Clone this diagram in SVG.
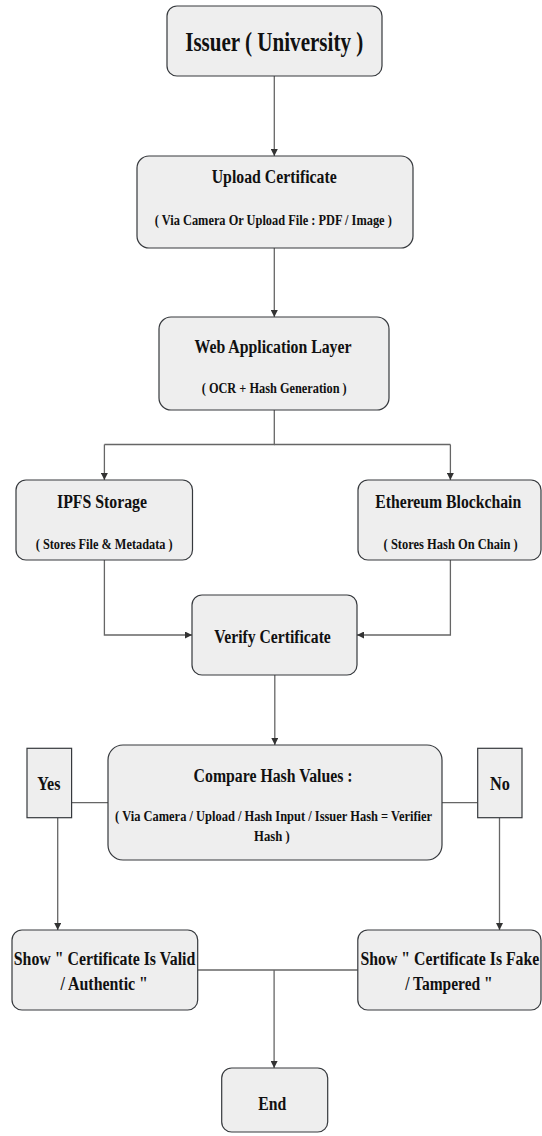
<svg xmlns="http://www.w3.org/2000/svg" width="542" height="1136" viewBox="0 0 542 1136">
<style>
.box{fill:#eeeeee;stroke:#36393d;stroke-width:1.2}
.t{font-family:"Liberation Serif","DejaVu Serif",serif;font-weight:bold;fill:#111;text-anchor:middle}
.big{font-size:28px}
.h{font-size:19px}
.s{font-size:15.5px}
.c{fill:none;stroke:#666;stroke-width:1.3}
.ca{fill:none;stroke:#666;stroke-width:1.3;marker-end:url(#arr)}
</style>
<defs>
<marker id="arr" viewBox="0 0 10 10" refX="10" refY="5" markerWidth="7" markerHeight="7" markerUnits="userSpaceOnUse" orient="auto">
<path d="M0,0 L10,5 L0,10 z" fill="#333"/>
</marker>
</defs>
<rect width="542" height="1136" fill="#ffffff"/>
<g id="connectors">
<path class="ca" d="M274.3,76 V156"/>
<path class="ca" d="M274.3,248 V317"/>
<path class="c" d="M274.3,410 V444.5 H104.4"/>
<path class="ca" d="M104.4,444.5 V480"/>
<path class="c" d="M274.3,444.5 H450.4"/>
<path class="ca" d="M450.4,444.5 V480"/>
<path class="ca" d="M104.4,560 V635 H192"/>
<path class="ca" d="M450.4,560 V635 H357"/>
<path class="ca" d="M274.8,675 V745"/>
<path class="c" d="M108,802.7 H71.6"/>
<path class="c" d="M442,802.7 H477.7"/>
<path class="ca" d="M57.7,818 V930"/>
<path class="ca" d="M499.5,818 V930"/>
<path class="c" d="M197.7,970 H357.8"/>
<path class="ca" d="M274.1,970 V1068"/>
</g>
<g id="issuer">
<rect class="box" x="167" y="6" width="215" height="70" rx="10"/>
<text class="t big" transform="translate(274.2,51) scale(0.8,1)" textLength="222.5" lengthAdjust="spacingAndGlyphs">Issuer ( University )</text>
</g>
<g id="upload">
<rect class="box" x="137" y="156" width="276" height="92" rx="12"/>
<text class="t h" transform="translate(274.2,182.7) scale(0.8,1)" textLength="156.25" lengthAdjust="spacingAndGlyphs">Upload Certificate</text>
<text class="t s" transform="translate(273.3,225) scale(0.8,1)" textLength="296.25" lengthAdjust="spacingAndGlyphs">( Via Camera Or Upload File : PDF / Image )</text>
</g>
<g id="webapp">
<rect class="box" x="159" y="317" width="230" height="93" rx="12"/>
<text class="t h" transform="translate(273,353.3) scale(0.8,1)" textLength="196.25" lengthAdjust="spacingAndGlyphs">Web Application Layer</text>
<text class="t s" transform="translate(274.2,393.3) scale(0.8,1)" textLength="181.25" lengthAdjust="spacingAndGlyphs">( OCR + Hash Generation )</text>
</g>
<g id="ipfs">
<rect class="box" x="16" y="480" width="176.5" height="80" rx="10"/>
<text class="t h" transform="translate(102,508.3) scale(0.8,1)" textLength="112.5" lengthAdjust="spacingAndGlyphs">IPFS Storage</text>
<text class="t s" transform="translate(104.2,549.3) scale(0.8,1)" textLength="171.25" lengthAdjust="spacingAndGlyphs">( Stores File &amp; Metadata )</text>
</g>
<g id="ethereum">
<rect class="box" x="358" y="480" width="183" height="80" rx="10"/>
<text class="t h" transform="translate(448.2,508.3) scale(0.8,1)" textLength="182.5" lengthAdjust="spacingAndGlyphs">Ethereum Blockchain</text>
<text class="t s" transform="translate(450.6,549.3) scale(0.8,1)" textLength="167.5" lengthAdjust="spacingAndGlyphs">( Stores Hash On Chain )</text>
</g>
<g id="verify">
<rect class="box" x="192" y="595" width="165" height="80" rx="10"/>
<text class="t h" transform="translate(272.6,642.7) scale(0.8,1)" textLength="145.6" lengthAdjust="spacingAndGlyphs">Verify Certificate</text>
</g>
<g id="compare">
<rect class="box" x="108" y="745" width="334" height="115" rx="15"/>
<text class="t h" transform="translate(273.1,782.3) scale(0.8,1)" textLength="198.75" lengthAdjust="spacingAndGlyphs">Compare Hash Values :</text>
<text class="t s" transform="translate(273.6,820.7) scale(0.8,1)" textLength="396.25" lengthAdjust="spacingAndGlyphs">( Via Camera / Upload / Hash Input / Issuer Hash = Verifier</text>
<text class="t s" transform="translate(271.9,841) scale(0.8,1)" textLength="44.5" lengthAdjust="spacingAndGlyphs">Hash )</text>
</g>
<g id="yes">
<rect class="box" x="27" y="748.3" width="44.6" height="69.4"/>
<text class="t h" transform="translate(48.9,790) scale(0.8,1)" textLength="29" lengthAdjust="spacingAndGlyphs">Yes</text>
</g>
<g id="no">
<rect class="box" x="477.7" y="748.3" width="44.3" height="69.4"/>
<text class="t h" transform="translate(500,790) scale(0.8,1)" textLength="24.9" lengthAdjust="spacingAndGlyphs">No</text>
</g>
<g id="valid">
<rect class="box" x="12" y="930" width="185.7" height="80" rx="10"/>
<text class="t h" transform="translate(104.5,965) scale(0.8,1)" textLength="226.9" lengthAdjust="spacingAndGlyphs">Show " Certificate Is Valid</text>
<text class="t h" transform="translate(104.2,990) scale(0.8,1)" textLength="109.25" lengthAdjust="spacingAndGlyphs">/ Authentic "</text>
</g>
<g id="fake">
<rect class="box" x="357.8" y="930" width="183.2" height="80" rx="10"/>
<text class="t h" transform="translate(449.9,965) scale(0.8,1)" textLength="223.4" lengthAdjust="spacingAndGlyphs">Show " Certificate Is Fake</text>
<text class="t h" transform="translate(448.9,990) scale(0.8,1)" textLength="109.4" lengthAdjust="spacingAndGlyphs">/ Tampered "</text>
</g>
<g id="end">
<rect class="box" x="221.7" y="1068" width="106" height="64" rx="10"/>
<text class="t h" transform="translate(272.3,1110) scale(0.8,1)" textLength="35" lengthAdjust="spacingAndGlyphs">End</text>
</g>
</svg>
